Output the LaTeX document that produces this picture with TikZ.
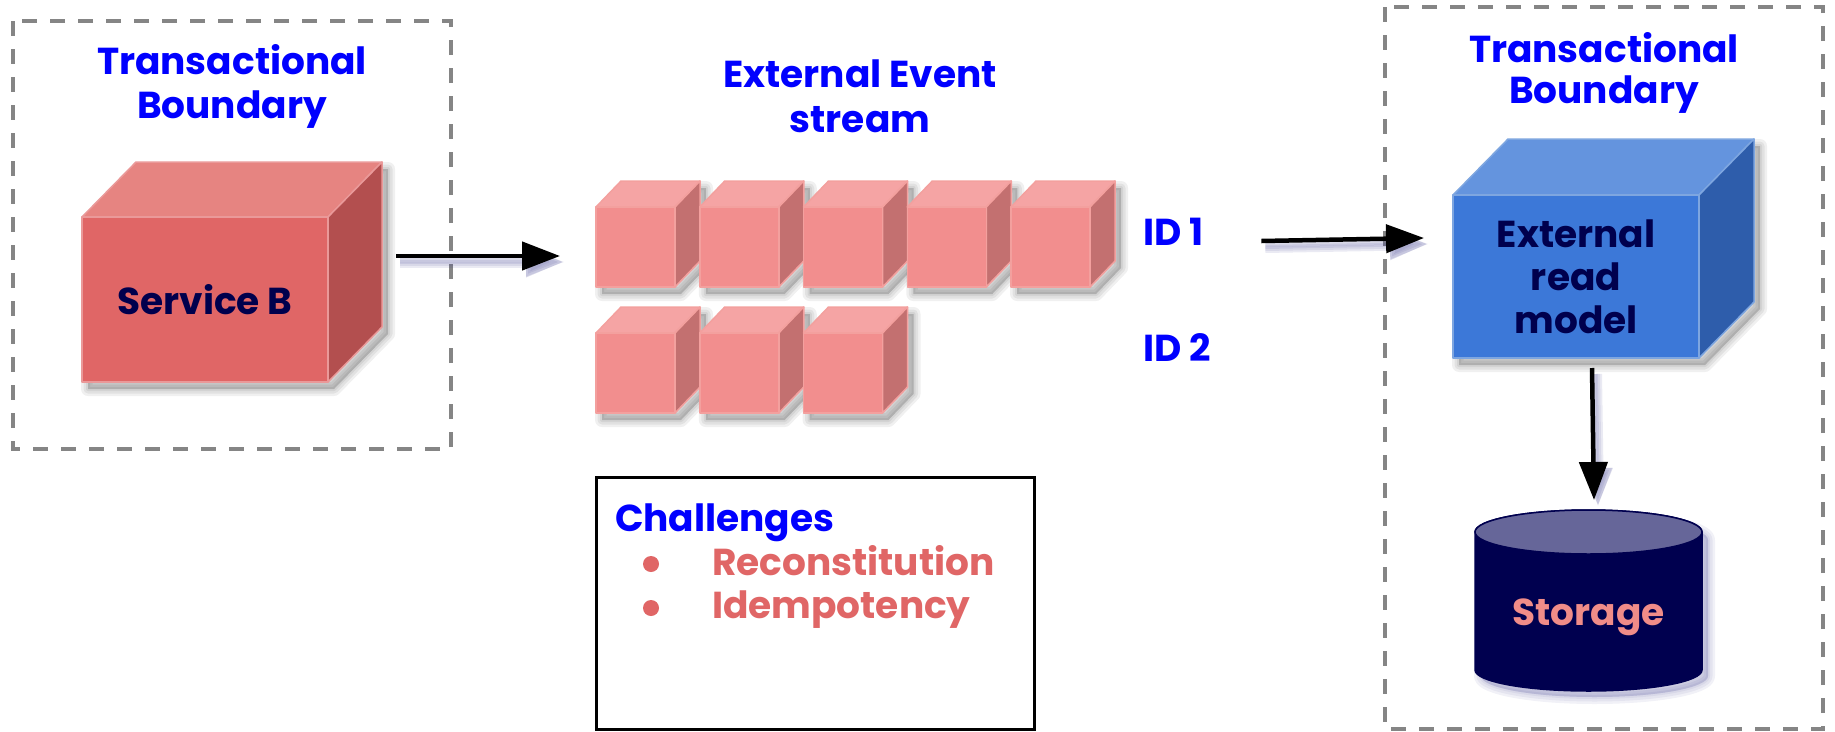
\documentclass[tikz,border=0pt]{standalone}
\usepackage{fontspec}
\setmainfont{Poppins}
\usetikzlibrary{arrows.meta}

\definecolor{titleblue}{HTML}{0000FF}
\definecolor{ink}{HTML}{00004D}
\definecolor{redfront}{HTML}{E06666}
\definecolor{redtop}{HTML}{E68481}
\definecolor{redside}{HTML}{B34F4F}
\definecolor{redline}{HTML}{EA9999}
\definecolor{evfront}{HTML}{F28E8E}
\definecolor{evtop}{HTML}{F5A4A4}
\definecolor{evside}{HTML}{C37070}
\definecolor{evline}{HTML}{F3A09E}
\definecolor{bluefront}{HTML}{3C78D8}
\definecolor{bluetop}{HTML}{6494DE}
\definecolor{blueside}{HTML}{2E5DAB}
\definecolor{blueline}{HTML}{7EA6E0}
\definecolor{framegray}{HTML}{858585}
\definecolor{dbbody}{HTML}{00004F}
\definecolor{dbtop}{HTML}{666699}
\definecolor{salmon}{HTML}{F08C88}
\definecolor{itemred}{HTML}{E06666}
\definecolor{glowblue}{HTML}{3A3A90}

\pgfdeclarelayer{frames}
\pgfdeclarelayer{shade}
\pgfdeclarelayer{bodies}
\pgfsetlayers{frames,shade,bodies,main}

\tikzset{
  every node/.style={inner sep=0pt, outer sep=0pt},
  heading/.style={text=titleblue, font=\fontsize{37.5}{#1}\selectfont\bfseries, align=center},
  celltext/.style={text=ink, font=\fontsize{37.5}{43}\selectfont\bfseries, align=center},
  idlabel/.style={text=titleblue, font=\fontsize{37.5}{43}\selectfont\bfseries},
  itemtext/.style={text=itemred, font=\fontsize{37.5}{43}\selectfont\bfseries},
  dblabel/.style={text=salmon, font=\fontsize{37.5}{43}\selectfont\bfseries},
  frame/.style={draw=framegray, line width=3.5pt, dash pattern=on 15pt off 13pt},
  facet/.style={line width=1.5pt, line join=round},
  flow/.style={line width=4.5pt, -{Triangle[length=38pt,width=28pt]}},
  flowglow/.style={draw=glowblue, fill=glowblue, line width=#1, opacity=0.10,
    -{Triangle[length=38pt,width=28pt]}},
}

% a box drawn as a cube: name, x1, y1, x2, y2 (front face), depth dx, dy, colour set, label
\newcommand\cube[9]{%
  \begin{pgfonlayer}{shade}
    \foreach \w in {14,9,4}
      \filldraw[black, opacity=0.06, line width=\w pt, line join=round]
        (#2+6,#5+7) -- (#2+6,#3+7) -- (#2+#6+6,#3-#7+7) -- (#4+#6+6,#3-#7+7)
        -- (#4+#6+6,#5-#7+7) -- (#4+6,#5+7) -- cycle;
  \end{pgfonlayer}
  \begin{pgfonlayer}{bodies}
    \filldraw[fill=#8top, draw=#8line, facet]
      (#2,#3) -- (#2+#6,#3-#7) -- (#4+#6,#3-#7) -- (#4,#3) -- cycle;
    \filldraw[fill=#8side, draw=#8line, facet]
      (#4,#3) -- (#4+#6,#3-#7) -- (#4+#6,#5-#7) -- (#4,#5) -- cycle;
    \filldraw[fill=#8front, draw=#8line, facet] (#2,#3) rectangle (#4,#5);
  \end{pgfonlayer}
  \node[celltext, minimum width={(#4-#2)*1pt}, minimum height={(#5-#3)*1pt}]
    (#1) at ({(#2+#4)/2},{(#3+#5)/2}) {#9};
}

% an arrow with a soft bluish shadow under it
\newcommand\flowline[2]{%
  \begin{scope}[transform canvas={xshift=4pt,yshift=-6pt}]
    \foreach \w in {12,8,4}
      \draw[flowglow=\w pt] #1 -- #2;
  \end{scope}
  \draw[flow] #1 -- #2;
}

\begin{document}
\begin{tikzpicture}[x=1pt,y=-1pt]
  \useasboundingbox (0,0) rectangle (1835,731);
  \begin{pgfonlayer}{frames}
    \fill[white] (0,0) rectangle (1835,731);
    \draw[frame] (13,21) rectangle (451,449);
    \draw[frame] (1385,7) rectangle (1823,729);
    \draw[line width=3pt] (596,477) rectangle (1034,729);
  \end{pgfonlayer}

  % headings (anchored on the baseline of their last line)
  \node[heading=44pt, anchor=base] (tbleft) at (232,118) {Transactional\\Boundary};
  \node[heading=45pt, anchor=base] (stream) at (860,132) {External Event\\stream};
  \node[heading=41pt, anchor=base] (tbright) at (1604,103) {Transactional\\Boundary};

  % producing service
  \cube{svc}{82}{217}{328}{382}{54}{55}{red}{Service B}

  % event stream, one row per id
  \foreach \i in {0,...,4}{
    \pgfmathsetmacro\xa{596+103.75*\i}
    \pgfmathsetmacro\xb{\xa+79}
    \cube{ea\i}{\xa}{207}{\xb}{287}{25}{26}{ev}{}
  }
  \foreach \i in {0,...,2}{
    \pgfmathsetmacro\xa{596+103.75*\i}
    \pgfmathsetmacro\xb{\xa+79}
    \cube{eb\i}{\xa}{333}{\xb}{413}{25}{26}{ev}{}
  }
  \node[idlabel, anchor=base west] (id1) at (1143,245) {ID 1};
  \node[idlabel, anchor=base west] (id2) at (1143,361) {ID 2};

  % read model
  \cube{rm}{1453}{195}{1699}{358}{55}{56}{blue}{External\\read\\model}

  % storage
  \begin{pgfonlayer}{shade}
    \foreach \w in {14,9,4}
      \filldraw[glowblue, opacity=0.07, line width=\w pt, line join=round]
        (1481,540) -- (1481,676) arc (180:0:113.5 and 21) -- (1708,540)
        arc (0:-180:113.5 and 22) -- cycle;
  \end{pgfonlayer}
  \begin{pgfonlayer}{bodies}
    \filldraw[fill=dbbody, draw=dbbody, facet]
      (1475,532) -- (1475,670) arc (180:0:113.5 and 21) -- (1702,532)
      arc (0:-180:113.5 and 22) -- cycle;
    \filldraw[fill=dbtop, draw=dbbody, facet] (1588.5,532) ellipse [x radius=113.5, y radius=22];
  \end{pgfonlayer}
  \node[dblabel, anchor=base] (st) at (1588.5,625) {Storage};

  % challenges
  \node[text=titleblue, font=\fontsize{37.5}{43}\selectfont\bfseries, anchor=base west]
    (chal) at (615,531) {Challenges};
  \fill[itemred] (651,564) circle (8pt);
  \fill[itemred] (651,608) circle (8pt);
  \node[itemtext, anchor=base west] (it1) at (712,575) {Reconstitution};
  \node[itemtext, anchor=base west] (it2) at (712,618) {Idempotency};

  % connectors
  \flowline{([xshift=68pt,yshift=43.5pt]svc.east)}{([xshift=-36pt,yshift=-9pt]ea0.west)}
  \flowline{([xshift=58pt,yshift=4pt]id1.base east)}{([xshift=-29pt,yshift=38.5pt]rm.west)}
  \flowline{([xshift=16pt,yshift=-10pt]rm.south)}{([xshift=5.5pt,yshift=125pt]st.base)}
\end{tikzpicture}
\end{document}
